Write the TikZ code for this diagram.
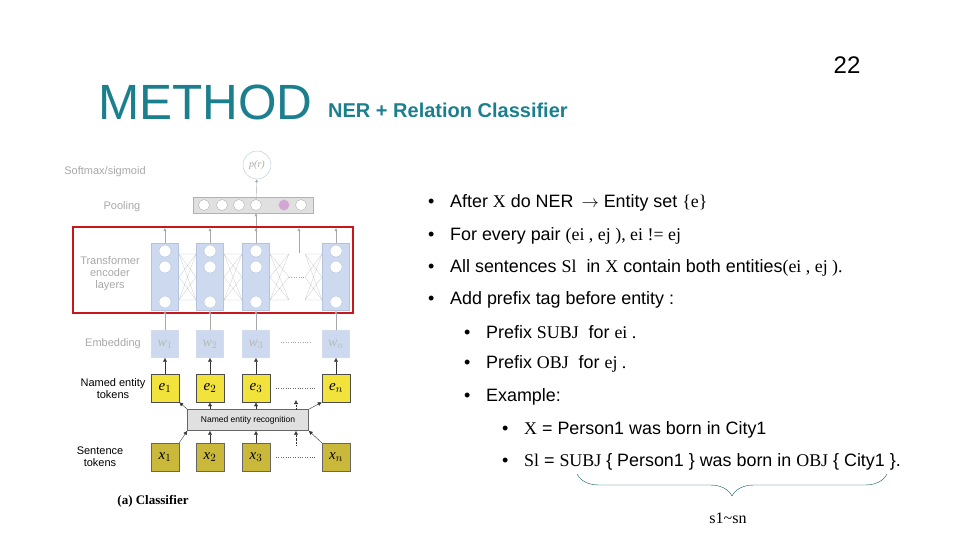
\documentclass[tikz,border=0pt]{standalone}
\usepackage{fontspec}
\setmainfont{Liberation Sans}
\newfontfamily\tms{Liberation Serif}
\usetikzlibrary{arrows.meta,decorations.pathreplacing}
\definecolor{teal1}{HTML}{1B7F8E}
\definecolor{lb}{HTML}{CDD9EF}
\definecolor{lbd}{HTML}{B4C4E0}
\definecolor{gt}{HTML}{A8A8A8}
\definecolor{ye}{HTML}{F2E33C}
\definecolor{ol}{HTML}{C9B83A}
\definecolor{rd}{HTML}{C8161D}
\newcommand{\bl}{\makebox[22pt][l]{\fontsize{18}{18}\selectfont•}}
\begin{document}
\begin{tikzpicture}[x=1pt,y=-1pt,
  lbl/.style={font=\fontsize{11}{12}\selectfont,align=center},
  glbl/.style={lbl,text=gt},
  tbox/.style={fill=lb,draw=lbd,minimum width=27,minimum height=67,inner sep=0},
  ebox/.style={fill=lb,draw=lbd!60,minimum width=27,minimum height=27,inner sep=0,text=gt!80,font=\tms\itshape\fontsize{14}{14}\selectfont},
  nbox/.style={fill=ye,draw=black!70,minimum width=28,minimum height=28,inner sep=0,font=\tms\itshape\fontsize{15}{15}\selectfont},
  xbox/.style={fill=ol,draw=black!60,minimum width=28,minimum height=28,inner sep=0,font=\tms\itshape\fontsize{15}{15}\selectfont},
  cir/.style={circle,fill=white,draw=lbd,minimum size=12,inner sep=0},
  garr/.style={draw=gt,-{Latex[length=3pt,width=3pt]}},
  karr/.style={draw=black!80,-{Latex[length=4pt,width=4pt]}},
  bul/.style={anchor=west,inner sep=0,font=\fontsize{17.9}{19}\selectfont},
  dots/.style={dotted,draw=black!60}]
\useasboundingbox (0,0) rectangle (960,540);
% titles
\node[anchor=base west,text=teal1,font=\fontsize{49.5}{50}\selectfont,inner sep=0] (t1) at (98,120) {METHOD};
\node[anchor=base west,text=teal1,font=\bfseries\fontsize{20}{20}\selectfont,inner sep=0] (t2) at (328,118) {NER + Relation Classifier};
\node[font=\fontsize{24}{24}\selectfont] (pg) at (847,65) {22};
% left labels
\node[glbl] (l1) at (105,172) {Softmax/sigmoid};
\node[glbl] (l2) at (122,207) {Pooling};
\node[glbl] (l3) at (110,274) {Transformer\\encoder\\layers};
\node[glbl] (l4) at (113,344) {Embedding};
\node[lbl] (l5) at (113,389) {Named entity\\tokens};
\node[lbl] (l6) at (100,457) {Sentence\\tokens};
\node[font=\tms\bfseries\fontsize{13}{13}\selectfont] (cap) at (153,501) {(a) Classifier};
% p(r)
\node[circle,draw=lbd,fill=white,minimum size=28,inner sep=0,text=gt,font=\tms\itshape\fontsize{10}{10}\selectfont] (pr) at (257,165) {p(r)};
% pooling
\node[fill=black!12,draw=black!30,minimum width=120,minimum height=16,inner sep=0] (pool) at (253,205) {};
\foreach \x/\n in {204/p1,222/p2,239/p3,256/p4,301/p6} \node[cir,draw=black!30,minimum size=11] (\n) at (\x,205) {};
\node[cir,fill=violet!35,draw=violet!20,minimum size=11] (p5) at (284,205) {};
\draw[garr] (p4) -- (pr);
% transformer
\foreach \x/\n in {165/a,210/b,256/c,336/d}{
  \node[tbox] (T\n) at (\x,277) {};
  \node[cir] (c\n1) at (\x,251) {};
  \node[cir] (c\n2) at (\x,267) {};
  \node[cir] (c\n3) at (\x,302) {};
  \coordinate (top\n) at (\x,228);
  \draw[garr] (T\n.north) -- (top\n);
}
\coordinate (top5) at (299,228);\coordinate (bot5) at (299,253);
\draw[garr] (bot5) -- (top5);
\draw[garr] (Tc.north) -- (pool.south -| Tc);
\foreach \xa/\xb in {179/196,224/242,270/289,305/322}{
  \coordinate (q1) at (\xa,254); \coordinate (q2) at (\xb,254);
  \coordinate (q3) at (\xa,300); \coordinate (q4) at (\xb,300);
  \coordinate (q5) at (\xa,277); \coordinate (q6) at (\xb,277);
  \draw[gt!70,very thin] (q1)--(q4) (q3)--(q2) (q1)--(q6) (q5)--(q2) (q5)--(q4) (q3)--(q6) (q1)--(q2) (q3)--(q4);
}
\draw[dots,draw=gt] (289,277) -- (305,277);
\draw[rd,line width=1.6pt] (73,227) rectangle (353,313);
% embedding
\foreach \x/\n/\t in {165/a/1,210/b/2,256/c/3,336/d/n}{
  \node[ebox] (w\n) at (\x,344) {w$_{\t}$};
  \draw[garr] (w\n.north) -- (T\n.south);
  \node[nbox] (e\n) at (\x,388) {e$_{\t}$};
  \draw[karr] (e\n.north) -- (w\n.south);
  \node[xbox] (x\n) at (\x,457) {x$_{\t}$};
}
\draw[dots,draw=gt] (281,342) -- (312,342);
\draw[dots] (276,388) -- (316,388);
\draw[dots] (276,457) -- (316,457);
\node[fill=black!12,draw=black!60,minimum width=121,minimum height=21,inner sep=0,font=\fontsize{8.5}{9}\selectfont] (ner) at (248,420) {Named entity recognition};
\draw[karr] (ner.north west) -- (ea.south east);
\draw[karr] (ner.north -| eb) -- (eb.south);
\draw[karr] (ner.north -| ec) -- (ec.south);
\draw[karr] (ner.north east) -- (ed.south west);
\draw[karr] (xa.north east) -- (ner.south west);
\draw[karr] (xb.north) -- (ner.south -| xb);
\draw[karr] (xc.north) -- (ner.south -| xc);
\draw[karr] (xd.north west) -- (ner.south east);
\coordinate (u1) at (296,400); \coordinate (u2) at (296,445);
\draw[karr,densely dotted] (ner.north -| u1) -- (u1);
\draw[karr,densely dotted] (u2) -- (ner.south -| u2);
% bullets
\node[bul] (b1) at (428,203) {\bl After {\tms X} do NER \,$\rightarrow$ Entity set {\tms\{e\}}};
\node[bul] (b2) at (428,236) {\bl For every pair {\tms(ei , ej ), ei != ej}};
\node[bul] (b3) at (428,268) {\bl All sentences {\tms Sl} \ in {\tms X} contain both entities{\tms(ei , ej ).}};
\node[bul] (b4) at (428,300) {\bl Add prefix tag before entity :};
\node[bul] (b5) at (464,332) {\bl Prefix {\tms SUBJ} \ for {\tms ei .}};
\node[bul] (b6) at (464,364) {\bl Prefix {\tms OBJ} \ for {\tms ej .}};
\node[bul] (b7) at (464,397) {\bl Example:};
\node[bul] (b8) at (502,430) {\bl {\tms X} = Person1 was born in City1};
\node[bul] (b9) at (502,462) {\bl {\tms Sl} = {\tms SUBJ} \{ Person1 \} was born in {\tms OBJ} \{ City1 \}.};
\coordinate (br1) at (887,474); \coordinate (br2) at (577,474);
\draw[teal1!70!black,decorate,decoration={brace,amplitude=22pt,aspect=0.5}] (br1) -- (br2);
\node[font=\tms\fontsize{16}{16}\selectfont] (s1) at (728,518) {s1\textasciitilde sn};
\end{tikzpicture}
\end{document}
